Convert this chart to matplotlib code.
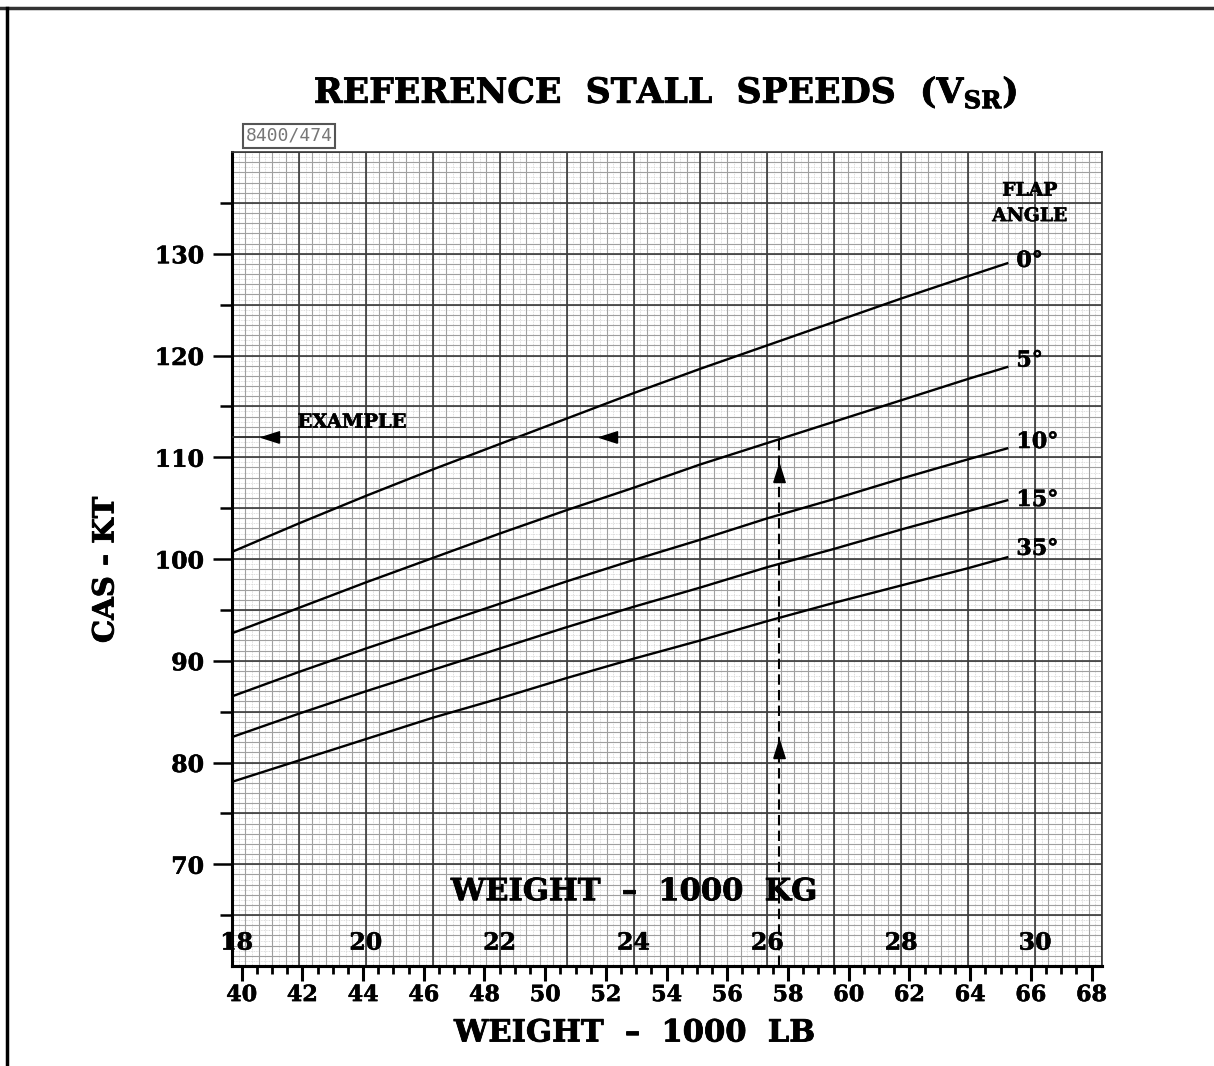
import matplotlib
matplotlib.use('Agg')
import numpy as np
import matplotlib.pyplot as plt
import matplotlib.patheffects as pe
from matplotlib.ticker import MultipleLocator, FixedLocator, NullFormatter
from matplotlib.lines import Line2D

# ---------------- data ----------------
LB_PER_KG = 2.20462
weight_kg = [18, 19, 20, 21, 22, 23, 24, 25, 26, 27, 28, 29, 29.6]   # 1000 kg
flap_angles = ['0°', '5°', '10°', '15°', '35°']
vsr_flap0 = [100.7, 103.5, 106.2, 108.8, 111.3, 113.8, 116.3, 118.7, 121.0, 123.3, 125.6, 127.8, 129.1]
vsr_flap5 = [92.7, 95.2, 97.7, 100.1, 102.5, 104.8, 107.0, 109.3, 111.4, 113.5, 115.6, 117.7, 118.9]
vsr_flap10 = [86.5, 88.9, 91.2, 93.4, 95.6, 97.8, 99.9, 101.9, 104.0, 105.9, 107.9, 109.8, 110.9]
vsr_flap15 = [82.5, 84.8, 87.0, 89.1, 91.2, 93.3, 95.3, 97.2, 99.2, 101.0, 102.9, 104.7, 105.8]
vsr_flap35 = [78.1, 80.2, 82.3, 84.4, 86.3, 88.3, 90.2, 92.0, 93.9, 95.7, 97.4, 99.1, 100.2]
series = [vsr_flap0, vsr_flap5, vsr_flap10, vsr_flap15, vsr_flap35]
flap_label_cas = [129.3, 119.5, 111.5, 105.8, 101.0]

kg_ticks = [18, 20, 22, 24, 26, 28, 30]
lb_ticks = list(range(40, 69, 2))
cas_ticks = [70, 80, 90, 100, 110, 120, 130]

example_weight_kg = 26.18
example_cas = 112.0

# ---------------- style ----------------
FONT = 'DejaVu Serif'
plt.rcParams['font.family'] = [FONT, 'DejaVu Sans']
plt.rcParams['font.weight'] = 'bold'
plt.rcParams['mathtext.fontset'] = 'custom'
plt.rcParams['mathtext.rm'] = 'DejaVu Serif:bold'
plt.rcParams['mathtext.it'] = 'DejaVu Serif:bold'
plt.rcParams['mathtext.bf'] = 'DejaVu Serif:bold'
heavy = [pe.withStroke(linewidth=0.6, foreground='black')]
heavy_s = [pe.withStroke(linewidth=0.4, foreground='black')]

W, H = 1214, 1066
fig = plt.figure(figsize=(W / 100, H / 100), dpi=100)
fig.patch.set_facecolor('white')

L, R, T, B = 232, 1102, 152, 966
ax = fig.add_axes([L / W, 1 - B / H, (R - L) / W, (B - T) / H])
ax.set_xlim(18, 31)
ax.set_ylim(60, 140)

# graph-paper grid
for v in np.arange(18, 31.001, 0.1):
    ax.axvline(v, color='#d2d2d2', lw=0.6, ls=(0, (1, 1)), zorder=0)
for v in np.arange(60, 140.001, 0.5):
    ax.axhline(v, color='#d2d2d2', lw=0.6, ls=(0, (1, 1)), zorder=0)
for v in np.arange(18, 31.001, 0.2):
    ax.axvline(v, color='#a0a0a0', lw=0.8, zorder=0.5)
for v in np.arange(60, 140.001, 1.0):
    ax.axhline(v, color='#a0a0a0', lw=0.8, zorder=0.5)
for v in np.arange(18, 31.001, 1.0):
    ax.axvline(v, color='#3a3a3a', lw=1.2, zorder=1)
for v in np.arange(60, 140.001, 5.0):
    ax.axhline(v, color='#3a3a3a', lw=1.2, zorder=1)

# curves
for vals in series:
    ax.plot(weight_kg, vals, color='black', lw=1.7, zorder=3,
            solid_capstyle='butt', solid_joinstyle='round')

# flap labels
for lab, y in zip(flap_angles, flap_label_cas):
    ax.text(29.72, y, lab, fontsize=16, ha='left', va='center', zorder=4,
            path_effects=heavy_s)
ax.text(29.92, 136.2, 'FLAP', fontsize=13.5, ha='center', va='center',
        path_effects=heavy_s, zorder=4)
ax.text(29.92, 133.7, 'ANGLE', fontsize=13.5, ha='center', va='center',
        path_effects=heavy_s, zorder=4)

# example
dash = (0, (5, 2.5))
ax.plot([example_weight_kg, example_weight_kg], [60, example_cas],
        color='black', lw=1.5, ls=dash, zorder=3)
ax.plot([18, example_weight_kg], [example_cas, example_cas],
        color='#2a2a2a', lw=1.3, zorder=3)
up = [(-0.38, -0.6), (0.38, -0.6), (0, 0.6), (-0.38, -0.6)]
left = [(0.6, -0.38), (0.6, 0.38), (-0.6, 0), (0.6, -0.38)]
ax.plot([example_weight_kg, example_weight_kg], [108.5, 81.3], ls='none',
        marker=up, markersize=13, color='black', zorder=4)
ax.plot([23.62, 18.57], [example_cas, example_cas], ls='none',
        marker=left, markersize=13, color='black', zorder=4)
ax.text(18.98, 113.4, 'EXAMPLE', fontsize=14, ha='left', va='center',
        path_effects=heavy_s, zorder=4)

# kg scale inside the plot
for k in kg_ticks:
    ax.text(k + (0.07 if k == 18 else 0), 62.3, str(k), fontsize=17,
            ha='center', va='center', path_effects=heavy_s, zorder=4)
ax.text(24.0, 67.3, 'WEIGHT  \u2013  1000  KG', fontsize=22, ha='center',
        va='center', path_effects=heavy, zorder=4)

# axes / ticks
ax.tick_params(axis='x', bottom=False, labelbottom=False, top=False)
ax.yaxis.set_major_locator(FixedLocator(cas_ticks))
ax.yaxis.set_minor_locator(FixedLocator([65, 75, 85, 95, 105, 115, 125, 135]))
ax.tick_params(axis='y', which='major', length=14, width=1.8, pad=6,
               labelsize=17, direction='out')
ax.tick_params(axis='y', which='minor', length=9, width=1.8, direction='out')
for lab in ax.get_yticklabels():
    lab.set_fontweight('bold')
    lab.set_path_effects(heavy_s)
ax.spines['left'].set_linewidth(2.2)
ax.spines['left'].set_color('black')
ax.spines['bottom'].set_linewidth(2.2)
ax.spines['bottom'].set_color('black')
for s in ('top', 'right'):
    ax.spines[s].set_linewidth(1.2)
    ax.spines[s].set_color('#3a3a3a')

sec = ax.secondary_xaxis('bottom', functions=(lambda k: k * LB_PER_KG,
                                              lambda lb: lb / LB_PER_KG))
sec.xaxis.set_major_locator(FixedLocator(lb_ticks))
sec.xaxis.set_minor_locator(MultipleLocator(0.5))
sec.xaxis.set_minor_formatter(NullFormatter())
sec.tick_params(which='major', length=11, width=2.2, labelsize=16, pad=2)
sec.tick_params(which='minor', length=6, width=2.0)
sec.spines['bottom'].set_linewidth(2.2)
for lab in sec.get_xticklabels():
    lab.set_fontweight('bold')
    lab.set_path_effects(heavy_s)

# titles & labels
fig.text(666 / W, 1 - 92 / H, 'REFERENCE  STALL  SPEEDS  (V$_{\\mathrm{SR}}$)',
         fontsize=25, ha='center', va='center', path_effects=heavy)
fig.text(634 / W, 1 - 1033 / H, 'WEIGHT  \u2013  1000  LB', fontsize=22,
         ha='center', va='center', path_effects=heavy)
fig.text(105 / W, 1 - 570 / H, 'CAS - KT', fontsize=21, rotation=90,
         ha='center', va='center', path_effects=heavy)
fig.text(289 / W, 1 - 136 / H, '8400/474', fontsize=13, fontweight='normal',
         family='DejaVu Sans Mono', color='#777777', ha='center', va='center',
         bbox=dict(boxstyle='square,pad=0.15', fc='white', ec='#555555', lw=1.5))

# page frame (top and left edges)
fig.add_artist(Line2D([0, 1], [1 - 8 / H, 1 - 8 / H], transform=fig.transFigure,
                      color='#333333', lw=2.5))
fig.add_artist(Line2D([7 / W, 7 / W], [0, 1 - 8 / H], transform=fig.transFigure,
                      color='black', lw=2.5))

fig.savefig('out.png', dpi=100, facecolor='white')
